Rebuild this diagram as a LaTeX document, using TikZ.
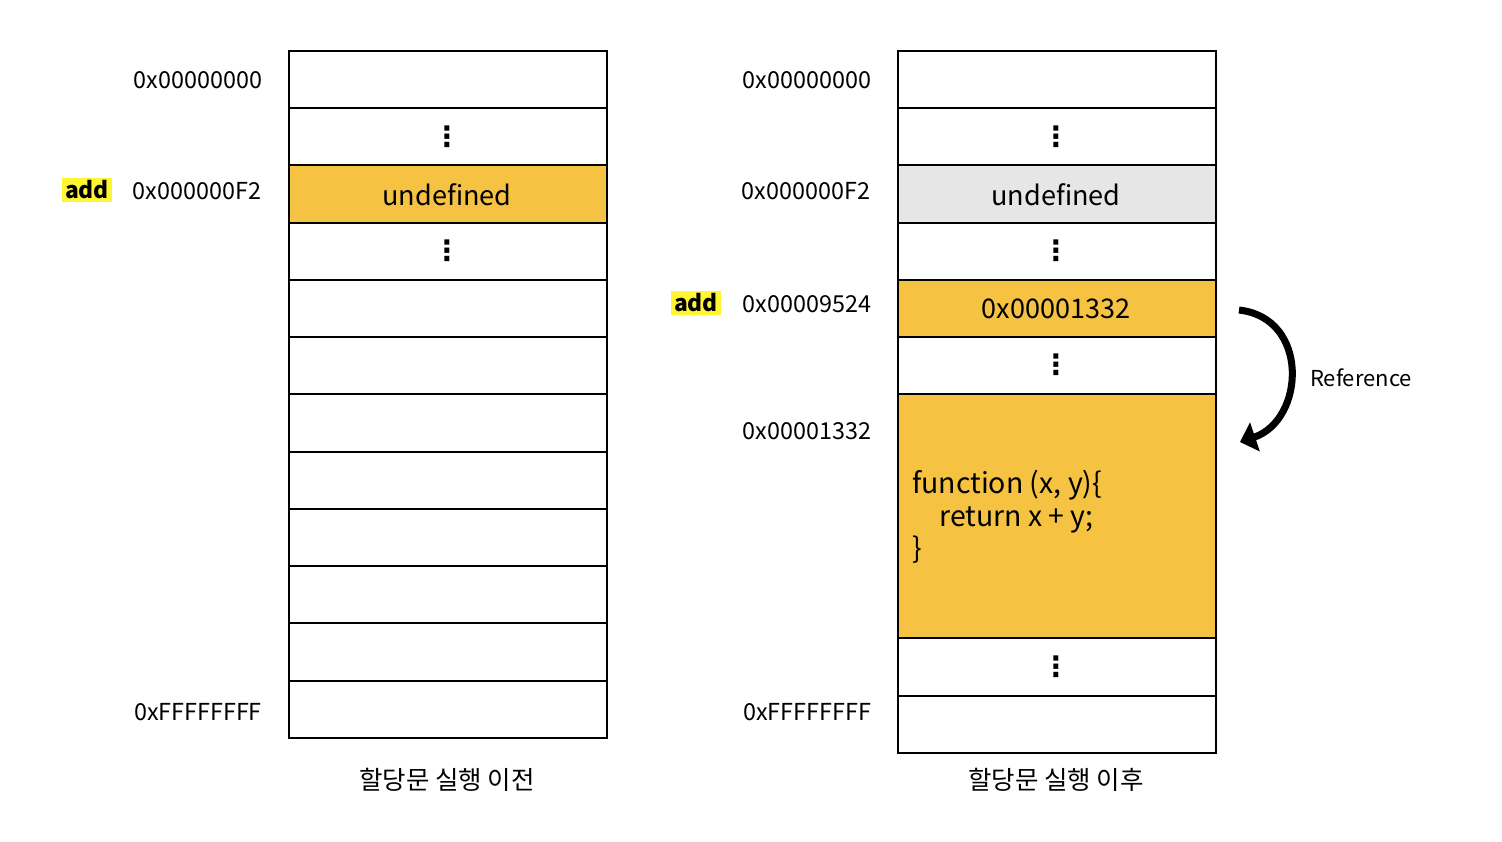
\documentclass[tikz,border=0pt]{standalone}
\usepackage{fontspec}
\setmainfont{Noto Sans CJK KR}
\newfontfamily\dotsfont{DejaVu Sans}
\usetikzlibrary{arrows.meta}
\definecolor{heap}{HTML}{F5C242}
\definecolor{old}{HTML}{E6E6E6}
\definecolor{mark}{HTML}{FFF533}

\begin{document}
\begin{tikzpicture}[x=0.02cm,y=-0.02cm]
			\tikzstyle{cell} = [draw, line width=1.1pt, minimum width=6.36cm, minimum height=1.145cm, inner sep=0pt, anchor=north west]
			\tikzstyle{val} = [inner sep=1pt, font=\fontsize{15.4}{18}\selectfont]
			\tikzstyle{dots} = [inner sep=0pt, font=\fontsize{16}{18}\dotsfont\bfseries]
			\tikzstyle{addr} = [font=\fontsize{13.3}{15}\selectfont]
			\tikzstyle{var} = [fill=mark, inner sep=1.5pt, font=\fontsize{13}{15}\selectfont\bfseries]
			\tikzstyle{caption} = [font=\fontsize{14.5}{17}\selectfont]
			\useasboundingbox (0,0) rectangle (1502,842);
			% before the assignment
			\node [cell] (l1) at (288,50) {};
			\node [cell] (l2) at (288,107.25) {};
			\node [cell, fill=heap] (l3) at (288,164.5) {};
			\node [cell] (l4) at (288,221.75) {};
			\node [cell] (l5) at (288,279) {};
			\node [cell] (l6) at (288,336.25) {};
			\node [cell] (l7) at (288,393.5) {};
			\node [cell] (l8) at (288,450.75) {};
			\node [cell] (l9) at (288,508) {};
			\node [cell] (l10) at (288,565.25) {};
			\node [cell] (l11) at (288,622.5) {};
			\node [cell] (l12) at (288,679.75) {};
			\node [dots] (ld1) at (447,137) {⋮};
			\node [val] (lt3) at (447,195) {undefined};
			\node [dots] (ld2) at (447,251) {⋮};
			\node [addr] (la1) at (198,80) {0x00000000};
			\node [addr] (la2) at (197,191) {0x000000F2};
			\node [addr] (la3) at (198,712) {0xFFFFFFFF};
			\node [var] (lv) at (87,190) {add};
			\node [caption] (lc) at (447,780) {할당문 실행 이전};
			% after the assignment
			\node [cell] (r1) at (897,50) {};
			\node [cell] (r2) at (897,107.25) {};
			\node [cell, fill=old] (r3) at (897,164.5) {};
			\node [cell] (r4) at (897,221.75) {};
			\node [cell, fill=heap] (r5) at (897,279) {};
			\node [cell] (r6) at (897,336.25) {};
			\node [cell, fill=heap, minimum height=4.88cm] (r7) at (897,393.5) {};
			\node [cell] (r8) at (897,637.5) {};
			\node [cell] (r9) at (897,694.75) {};
			\node [dots] (rd1) at (1056,137) {⋮};
			\node [val] (rt3) at (1056,195) {undefined};
			\node [dots] (rd2) at (1056,251) {⋮};
			\node [val] (rt5) at (1056,309) {0x00001332};
			\node [dots] (rd3) at (1056,365) {⋮};
			\node [dots] (rd4) at (1056,667) {⋮};
			\node [anchor=west, align=left, font=\fontsize{16.2}{18.5}\selectfont] (code) at (906,517) {function (x, y)\{\\\hspace{0.95em}return x + y;\\\}};
			\node [addr] (ra1) at (807,80) {0x00000000};
			\node [addr] (ra2) at (806,191) {0x000000F2};
			\node [addr] (ra3) at (807,304) {0x00009524};
			\node [addr] (ra4) at (807,431) {0x00001332};
			\node [addr] (ra5) at (807,712) {0xFFFFFFFF};
			\node [var] (rv) at (696,303) {add};
			\node [caption] (rc) at (1056,780) {할당문 실행 이후};
			% the reference arrow
			\coordinate (p1) at (1239,310);
			\coordinate (p2) at (1240,442);
			\draw [line width=4pt, -{Triangle[length=9pt,width=17pt]}] (p1) .. controls (1310,318) and (1305,420) .. (p2);
			\node [addr, font=\fontsize{12.5}{15}\selectfont] (ref) at (1361,378) {Reference};
		\end{tikzpicture}
\end{document}
